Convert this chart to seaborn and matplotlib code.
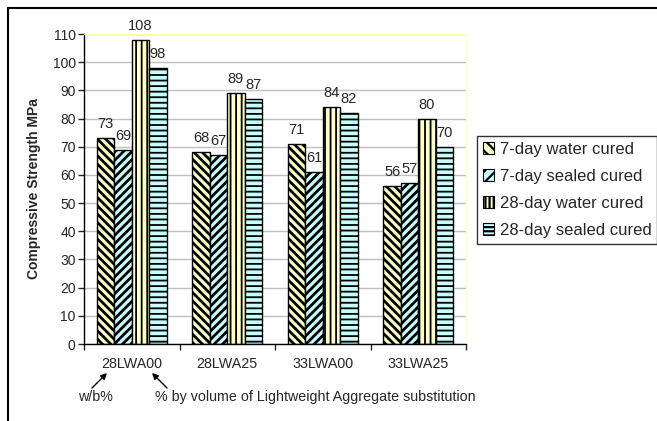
import pandas as pd
import matplotlib.pyplot as plt
import seaborn as sns
from matplotlib.patches import Patch, Rectangle

# chart values
mixes = ['28LWA00', '28LWA25', '33LWA00', '33LWA25']
series = ['7-day water cured', '7-day sealed cured', '28-day water cured', '28-day sealed cured']
water_7 = [73, 68, 71, 56]
sealed_7 = [69, 67, 61, 57]
water_28 = [108, 89, 84, 80]
sealed_28 = [98, 87, 82, 70]
y_ticks = list(range(0, 111, 10))

W, H = 657, 421


def fig_xy(x, y):
    # pixel coords (top-left origin) -> figure fraction
    return x / W, 1 - y / H


df = pd.DataFrame({
    'mix': mixes * 4,
    'series': [s for s in series for _ in mixes],
    'strength': water_7 + sealed_7 + water_28 + sealed_28,
})

sns.set_style('white')
plt.rcParams['font.family'] = ['Liberation Sans', 'DejaVu Sans']
plt.rcParams['hatch.linewidth'] = 1.6

fig = plt.figure(figsize=(W / 100, H / 100), dpi=100)
ax = fig.add_axes([84 / W, 77 / H, (466 - 84) / W, (344 - 34) / H])

fills = ['#FFFFC8', '#C8FFFF', '#FFFFC8', '#C8FFFF']
hatches = ['\\\\\\\\', '////', '|||', '---']
hatch_lw = [2.0, 2.0, 1.3, 1.3]

sns.barplot(data=df, x='mix', y='strength', hue='series', order=mixes,
            hue_order=series, palette=fills, width=0.73, edgecolor='black',
            linewidth=1, saturation=1, legend=False, ax=ax)

for cont, h, lw in zip(ax.containers, hatches, hatch_lw):
    for bar in cont:
        bar.set_hatch(h)
        if hasattr(bar, 'set_hatch_linewidth'):
            bar.set_hatch_linewidth(lw)
    ax.bar_label(cont, fontsize=10.5, padding=5)

# legend with hatched handles
handles = [Patch(facecolor=f, edgecolor='black', hatch=h, linewidth=0.8)
           for f, h in zip(fills, ['\\\\\\', '///', '||||', '----'])]
leg = fig.legend(handles, series, loc='upper left', bbox_to_anchor=fig_xy(477, 136),
                 fontsize=12, frameon=True, fancybox=False, edgecolor='black',
                 handlelength=0.65, handleheight=0.65, handletextpad=0.35,
                 labelspacing=0.72, borderpad=0.35, borderaxespad=0)
leg.get_frame().set_linewidth(1)

ax.set_ylim(0, 110)
ax.set_xlim(-0.5, 3.5)
ax.set_yticks(y_ticks)
ax.tick_params(axis='y', labelsize=10, length=4, width=1, direction='out', left=True, pad=2)
ax.set_xticks([-0.5, 0.5, 1.5, 2.5, 3.5])
ax.set_xticklabels([])
ax.tick_params(axis='x', which='major', length=4, width=1, direction='out', bottom=True)
ax.set_xticks(range(len(mixes)), minor=True)
ax.set_xticklabels(mixes, minor=True)
ax.tick_params(axis='x', which='minor', length=0, labelsize=10.3, pad=9)
ax.set_xlabel('')
ax.set_ylabel('Compressive Strength MPa', fontsize=10, fontweight='bold', labelpad=8)

ax.grid(axis='y', color='#C0C0C0', linewidth=1)
ax.set_axisbelow(True)
for side in ['left', 'bottom']:
    ax.spines[side].set_color('black')
    ax.spines[side].set_linewidth(1)
for side in ['top', 'right']:
    ax.spines[side].set_color('#FFFFC0')
    ax.spines[side].set_linewidth(1)

# notes under the axis with arrows
fig.text(*fig_xy(95, 397), 'w/b%', fontsize=10.3, ha='center', va='center')
fig.text(*fig_xy(155, 397), '% by volume of Lightweight Aggregate substitution',
         fontsize=10.3, ha='left', va='center')
arrow = dict(arrowstyle='-|>', color='black', lw=1, mutation_scale=9, shrinkA=0, shrinkB=0)
ax.annotate('', xy=fig_xy(107, 373), xycoords='figure fraction',
            xytext=fig_xy(92, 388), textcoords='figure fraction', arrowprops=arrow)
ax.annotate('', xy=fig_xy(152, 373), xycoords='figure fraction',
            xytext=fig_xy(167, 388), textcoords='figure fraction', arrowprops=arrow)

# outer chart frame (only top and left edges visible)
x0, y0 = fig_xy(8, 8)
fig.add_artist(Rectangle((x0, -0.1), 1.2, y0 + 0.1, transform=fig.transFigure,
                         fill=False, edgecolor='black', linewidth=1.5))

fig.savefig('out.png', dpi=100)
